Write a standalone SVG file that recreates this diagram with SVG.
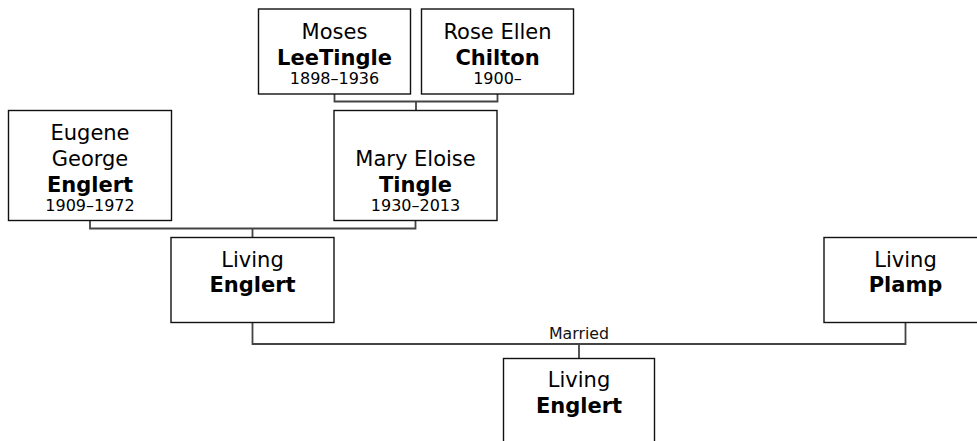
<svg xmlns="http://www.w3.org/2000/svg" width="977" height="441" viewBox="0 0 977 441">
<style>
  .box { fill: #ffffff; stroke: #111; stroke-width: 1.4; }
  .t { font-family: "DejaVu Sans", Verdana, sans-serif; font-size: 21px; fill: #000; text-anchor: middle; }
  .b { font-weight: bold; }
  .y { font-size: 16px; }
  .lbl { font-family: "DejaVu Sans", Verdana, sans-serif; font-size: 15.8px; fill: #111; text-anchor: middle; }
  .c { fill: none; stroke: #444; stroke-width: 1.8; }
</style>
<rect width="977" height="441" fill="#ffffff"/>
<g id="connectors">
  <path class="c" d="M334.5 94 V101.5 H497.5 V94 M416 101.5 V110.5"/>
  <path class="c" d="M90 220.5 V228.5 H415.5 V220.5 M252.5 228.5 V237.5"/>
  <path class="c" d="M252.5 322.5 V344 H905.5 V322.5 M579 344 V358.5"/>
  <text class="lbl" x="579" y="339">Married</text>
</g>
<g id="moses">
  <rect class="box" x="258.5" y="9" width="152" height="85"/>
  <text class="t" x="334.5" y="38.5">Moses</text>
  <text class="t b" x="334.5" y="64.5">LeeTingle</text>
  <text class="t y" x="334.5" y="84">1898–1936</text>
</g>
<g id="rose">
  <rect class="box" x="421.5" y="9" width="152" height="85"/>
  <text class="t" x="497.5" y="38.5">Rose Ellen</text>
  <text class="t b" x="497.5" y="64.5">Chilton</text>
  <text class="t y" x="497.5" y="84">1900–</text>
</g>
<g id="eugene">
  <rect class="box" x="8.5" y="110.5" width="163" height="110"/>
  <text class="t" x="90" y="139.5">Eugene</text>
  <text class="t" x="90" y="165.5">George</text>
  <text class="t b" x="90" y="191.5">Englert</text>
  <text class="t y" x="90" y="211">1909–1972</text>
</g>
<g id="mary">
  <rect class="box" x="334" y="110.5" width="163" height="110"/>
  <text class="t" x="415.5" y="165.5">Mary Eloise</text>
  <text class="t b" x="415.5" y="191.5">Tingle</text>
  <text class="t y" x="415.5" y="211">1930–2013</text>
</g>
<g id="living-englert-parent">
  <rect class="box" x="171" y="237.5" width="163" height="85"/>
  <text class="t" x="252.5" y="266.5">Living</text>
  <text class="t b" x="252.5" y="292">Englert</text>
</g>
<g id="living-plamp">
  <rect class="box" x="824" y="237.5" width="163" height="85"/>
  <text class="t" x="905.5" y="266.5">Living</text>
  <text class="t b" x="905.5" y="292">Plamp</text>
</g>
<g id="living-englert-child">
  <rect class="box" x="503.5" y="358.5" width="151" height="90"/>
  <text class="t" x="579" y="387">Living</text>
  <text class="t b" x="579" y="413">Englert</text>
</g>
</svg>
